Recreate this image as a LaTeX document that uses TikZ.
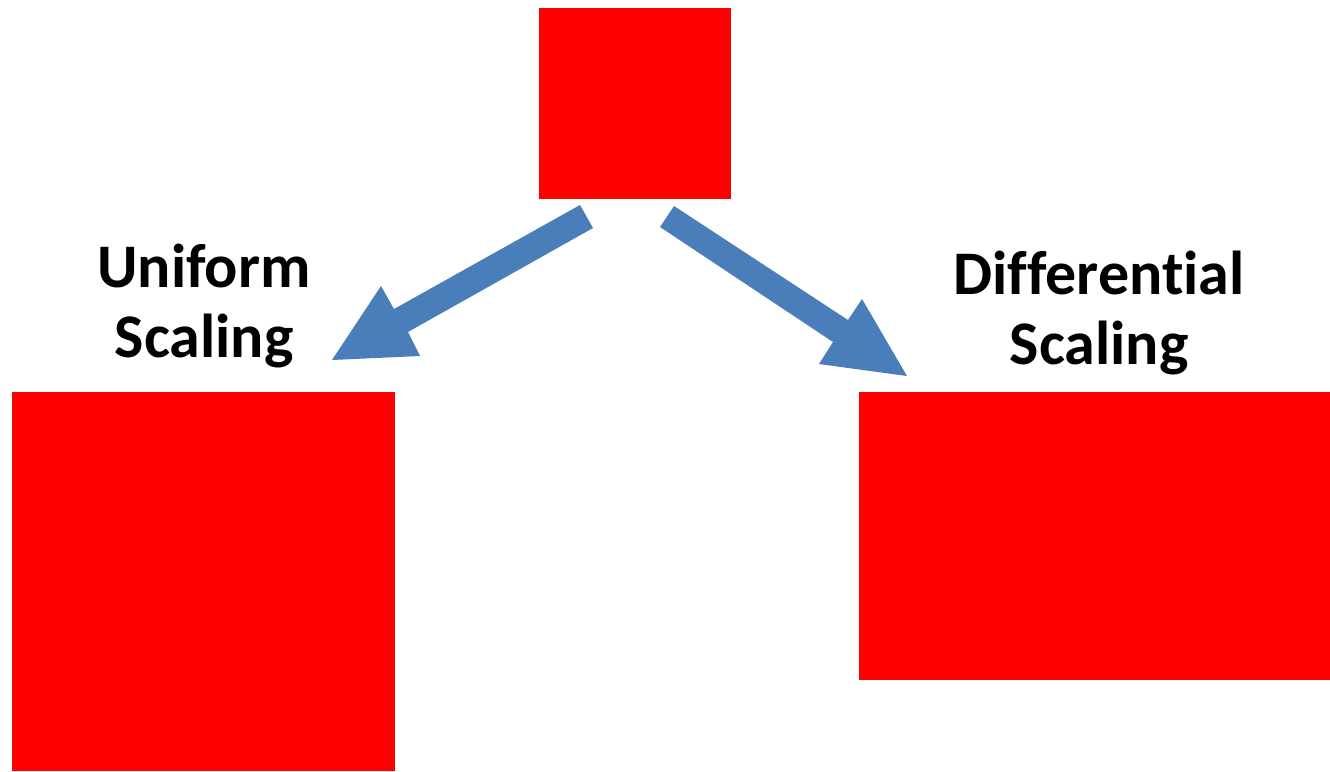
\documentclass[tikz,border=0pt]{standalone}
\usepackage{fontspec}
\setmainfont{Carlito}[Ligatures=NoCommon]
\definecolor{boxred}{HTML}{FF0000}
\definecolor{arrowblue}{HTML}{4A7EBB}
\begin{document}
\begin{tikzpicture}[x=0.75pt,y=-0.75pt,
  redbox/.style={fill=boxred,draw=none},
  bigarrow/.style={fill=arrowblue,draw=none},
  lbl/.style={font=\fontsize{46.5}{53}\selectfont\bfseries,align=center,inner sep=0pt}]
\useasboundingbox[fill=white] (0,0) rectangle (1330,771);
% squares
\fill[redbox] (539,8) rectangle (731,199);
\fill[redbox] (12,392) rectangle (395,771);
\fill[redbox] (859,392) rectangle (1330,680);
% arrows
\fill[bigarrow] (580,205) -- (593,228) -- (408,332) -- (420,356) -- (332,360) -- (381,286) -- (394,309) -- cycle;
\fill[bigarrow] (674,206) -- (660,227) -- (833,342) -- (819,364) -- (907,376) -- (862,299) -- (848,320) -- cycle;
% labels
\node[lbl] (lu) at (204,306) {Uniform\\Scaling};
\node[lbl] (ld) at (1099,313) {Differential\\Scaling};
\end{tikzpicture}
\end{document}
